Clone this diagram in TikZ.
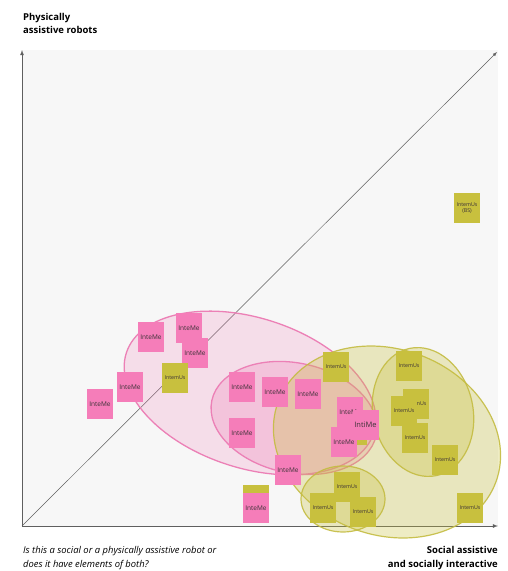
\documentclass[tikz,border=0pt]{standalone}
\usepackage{fontspec}
\setmainfont{Open Sans}
\usetikzlibrary{arrows}
\definecolor{notepink}{RGB}{245,125,185}
\definecolor{noteolive}{RGB}{200,192,62}
\definecolor{notetext}{RGB}{60,50,55}
\definecolor{pinkline}{RGB}{236,128,182}
\definecolor{pinkfill}{RGB}{240,120,180}
\definecolor{oliveline}{RGB}{196,188,66}
\definecolor{olivefill}{RGB}{200,192,60}
\definecolor{plotbg}{RGB}{247,247,247}
\definecolor{axisgray}{RGB}{95,95,95}

\begin{document}
\begin{tikzpicture}[x=1pt,y=-1pt,
		every node/.style={font=\fontsize{6.5}{7}\selectfont},
		me/.style={fill=notepink, text=notetext, minimum width=26pt, minimum height=30pt, inner sep=0pt},
		us/.style={fill=noteolive, text=notetext, minimum width=26pt, minimum height=30pt, inner sep=0pt, align=center, font=\fontsize{5.3}{6.3}\selectfont},
		pinkset/.style={draw=pinkline, line width=1.3pt, fill=pinkfill, fill opacity=#1},
		oliveset/.style={draw=oliveline, draw opacity=0.9, line width=1.2pt, fill=olivefill, fill opacity=#1},
		axis/.style={draw=axisgray, line width=0.8pt, -latex}]
		\useasboundingbox (0,0) rectangle (508,571);
		\fill[plotbg] (22,50) rectangle (498,526);
		\coordinate (o) at (22,526);
		\coordinate (ytop) at (22,50);
		\coordinate (xend) at (498,526);
		\coordinate (dend) at (497,52);
		\draw[axis] (o) -- (ytop);
		\draw[axis] (o) -- (xend);
		\draw[draw=axisgray, line width=0.5pt, -latex] (o) -- (dend);
		% groups
		\draw[pinkset=0.2, rotate around={-18:(250,393)}] (250,393) ellipse (130 and 75);
		\draw[pinkset=0.25, rotate around={-12:(294,418)}] (294,418) ellipse (84 and 55);
		\draw[oliveset=0.3, rotate around={-20:(387,442)}] (387,442) ellipse (116 and 93);
		\draw[oliveset=0.3, rotate around={12:(423,412)}] (423,412) ellipse (50 and 65);
		\draw[oliveset=0.3] (343,499) ellipse (42 and 33);
		% notes
		\node[me] (me1) at (151,337) {InteMe};
		\node[me] (me2) at (189,328) {InteMe};
		\node[me] (me3) at (195,353) {InteMe};
		\node[us] (us1) at (175,378) {IntemUs};
		\node[me] (me4) at (130,387) {InteMe};
		\node[me] (me5) at (100,404) {InteMe};
		\node[me] (me6) at (242,387) {InteMe};
		\node[me] (me7) at (275,392) {InteMe};
		\node[me] (me8) at (308,394) {InteMe};
		\node[me] (me9) at (242,433) {InteMe};
		\node[me] (me10) at (288,470) {InteMe};
		\node[us] (us2) at (256,500) {IntemUs};
		\node[me] (me11) at (256,508) {InteMe};
		\node[us] (us3) at (354,430) {IntemUs};
		\node[me] (me12) at (350,412) {InteMe};
		\node[me, font=\fontsize{7.5}{8}\selectfont] (mi) at (365.5,425) {IntiMe};
		\node[me] (me13) at (344,442) {InteMe};
		\node[us] (us4) at (336,367) {IntemUs};
		\node[us] (us5) at (409,366) {IntemUs};
		\node[us] (us6) at (416,404) {IntemUs};
		\node[us] (us7) at (404,411) {IntemUs};
		\node[us] (us8) at (415,438) {IntemUs};
		\node[us] (us9) at (445,460) {IntemUs};
		\node[us] (us10) at (470,508) {IntemUs};
		\node[us] (us11) at (467,208) {IntemUs\\(BS)};
		\node[us] (us12) at (347,487) {IntemUs};
		\node[us] (us13) at (323,508) {IntemUs};
		\node[us] (us14) at (363,512) {IntemUs};
		% labels
		\node[anchor=north west, align=left, inner sep=0pt, font=\bfseries\fontsize{9.5}{13}\selectfont] (ylab) at (23,13) {Physically\\assistive robots};
		\node[anchor=north west, align=left, inner sep=0pt, font=\itshape\fontsize{9.4}{14}\selectfont] (quest) at (23,546) {Is this a social or a physically assistive robot or\\does it have elements of both?};
		\node[anchor=north east, align=right, inner sep=0pt, font=\bfseries\fontsize{9.5}{14}\selectfont] (xlab) at (498,546) {Social assistive\\and socially interactive};
	\end{tikzpicture}
\end{document}
